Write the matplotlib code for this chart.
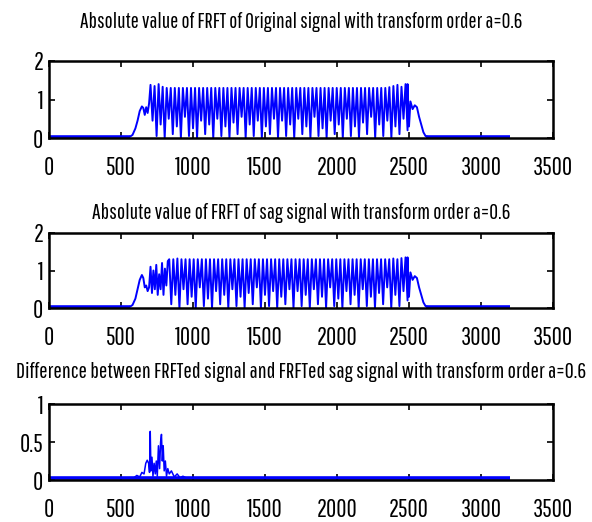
import numpy as np
import matplotlib
matplotlib.use("Agg")
import matplotlib.pyplot as plt

plt.rcParams['font.family'] = ['Pathway Gothic One', 'Saira Extra Condensed',
                               'Fira Sans Extra Condensed', 'DejaVu Sans']

# ---------------- data ----------------
titles = [
    "Absolute value of FRFT of Original signal with transform order a=0.6",
    "Absolute value of FRFT of sag signal with transform order a=0.6",
    "Difference between FRFTed signal and FRFTed sag signal with transform order a=0.6",
]
xticks = [0, 500, 1000, 1500, 2000, 2500, 3000, 3500]
yticks_top = [0, 1, 2]
yticks_diff = [0, 0.5, 1]
ytick_labels_diff = ["0", "0.5", "1"]

# noise floor (flat parts)
floor_x = [1, 560, 2620, 3200]
floor_y = [0.03, 0.03, 0.03, 0.03]

# original signal: rise / fall edges
orig_rise_x = [560, 580, 600, 615, 630, 645, 655, 665, 675, 685, 695, 705]
orig_rise_y = [0.03, 0.08, 0.25, 0.45, 0.7, 0.82, 0.78, 0.6, 0.8, 0.65, 0.9, 1.38]
orig_fall_x = [2490, 2500, 2510, 2525, 2540, 2555, 2570, 2585, 2600, 2615, 2630]
orig_fall_y = [1.4, 0.3, 0.95, 0.75, 0.85, 0.8, 0.55, 0.35, 0.15, 0.05, 0.03]
# oscillating body: peak / trough values, alternating along x
orig_body_start, orig_body_end = 705, 2490
orig_peaks = [1.38, 1.35, 1.4, 1.33, 1.3, 1.3, 1.3, 1.3, 1.3, 1.3, 1.3, 1.3, 1.3, 1.3, 1.3, 1.3,
              1.3, 1.3, 1.3, 1.3, 1.3, 1.3, 1.3, 1.3, 1.3, 1.3, 1.3, 1.3, 1.3, 1.3, 1.3, 1.3,
              1.3, 1.3, 1.3, 1.3, 1.3, 1.3, 1.3, 1.3, 1.3, 1.3, 1.3, 1.3, 1.3, 1.3, 1.3, 1.3,
              1.3, 1.3, 1.3, 1.3, 1.3, 1.3, 1.3, 1.3, 1.3, 1.3, 1.3, 1.32, 1.35, 1.38, 1.33, 1.4]
orig_troughs = [0.45, 0.05, 0.35, 0.0, 0.5, 0.1, 0.3, 0.0, 0.55, 0.05, 0.25, 0.0, 0.45, 0.1, 0.35, 0.0,
                0.5, 0.05, 0.3, 0.0, 0.4, 0.1, 0.55, 0.0, 0.35, 0.05, 0.45, 0.0, 0.3, 0.1, 0.5, 0.0,
                0.45, 0.05, 0.35, 0.0, 0.5, 0.1, 0.3, 0.0, 0.55, 0.05, 0.25, 0.0, 0.45, 0.1, 0.35, 0.0,
                0.5, 0.05, 0.3, 0.0, 0.4, 0.1, 0.55, 0.0, 0.35, 0.05, 0.45, 0.0, 0.3, 0.1, 0.5, 0.2]

# sag signal
sag_rise_x = [560, 580, 600, 615, 630, 645, 655, 665, 675, 685, 695, 705, 715, 725, 735, 745,
              755, 765, 775, 785, 795, 805, 815, 825, 835]
sag_rise_y = [0.03, 0.08, 0.25, 0.5, 0.75, 0.88, 0.8, 0.55, 0.6, 0.45, 0.55, 1.1, 0.4, 1.0, 0.5,
              1.15, 0.35, 0.9, 0.5, 1.2, 0.35, 1.05, 0.6, 1.25, 1.3]
sag_fall_x = orig_fall_x
sag_fall_y = [1.35, 0.3, 0.95, 0.75, 0.85, 0.8, 0.55, 0.35, 0.15, 0.05, 0.03]
sag_body_start, sag_body_end = 835, 2490
sag_peaks = [1.3, 1.3, 1.32, 1.3, 1.3, 1.3, 1.3, 1.3, 1.3, 1.3, 1.3, 1.3, 1.3, 1.3, 1.3, 1.3,
             1.3, 1.3, 1.3, 1.3, 1.3, 1.3, 1.3, 1.3, 1.3, 1.3, 1.3, 1.3, 1.3, 1.3, 1.3, 1.3,
             1.3, 1.3, 1.3, 1.3, 1.3, 1.3, 1.3, 1.3, 1.3, 1.3, 1.3, 1.3, 1.3, 1.3, 1.3, 1.3,
             1.3, 1.3, 1.3, 1.3, 1.3, 1.3, 1.3, 1.32, 1.3, 1.33, 1.35]
sag_troughs = [0.1, 0.35, 0.0, 0.5, 0.1, 0.3, 0.0, 0.55, 0.05, 0.25, 0.0, 0.45, 0.1, 0.35, 0.0,
               0.5, 0.05, 0.3, 0.0, 0.4, 0.1, 0.55, 0.0, 0.35, 0.05, 0.45, 0.0, 0.3, 0.1, 0.5, 0.0,
               0.45, 0.05, 0.35, 0.0, 0.5, 0.1, 0.3, 0.0, 0.55, 0.05, 0.25, 0.0, 0.45, 0.1, 0.35, 0.0,
               0.5, 0.05, 0.3, 0.0, 0.4, 0.1, 0.55, 0.0, 0.35, 0.05, 0.45, 0.2]

# difference signal (non-flat part)
diff_x = [560, 590, 610, 630, 645, 660, 672, 682, 692, 698, 703, 708, 715, 722, 730, 738, 745,
          752, 760, 768, 775, 781, 787, 793, 800, 808, 816, 825, 835, 850, 870, 890, 910, 930, 950]
diff_y = [0.03, 0.03, 0.06, 0.04, 0.1, 0.08, 0.22, 0.26, 0.22, 0.1, 0.64, 0.12, 0.3, 0.05, 0.22,
          0.08, 0.25, 0.05, 0.45, 0.15, 0.5, 0.6, 0.25, 0.45, 0.12, 0.25, 0.05, 0.15, 0.08, 0.12,
          0.04, 0.08, 0.03, 0.05, 0.03]

BLUE = (0, 0, 1)


def body_xy(start, end, peaks, troughs):
    vals = []
    for p, t in zip(peaks, troughs):
        vals.extend([p, t])
    xs = np.linspace(start, end, len(vals))
    return xs, np.array(vals)


def style_axes(ax, ylim, yticks, ylabels=None):
    ax.set_xlim(0, 3500)
    ax.set_ylim(*ylim)
    ax.set_xticks(xticks)
    ax.set_xticklabels([str(v) for v in xticks])
    ax.set_yticks(yticks)
    if ylabels is not None:
        ax.set_yticklabels(ylabels)
    else:
        ax.set_yticklabels([str(v) for v in yticks])
    ax.tick_params(direction='in', length=4, width=1.2, top=True, right=True,
                   labelsize=18, colors='black')
    ax.tick_params(axis='x', pad=13)
    ax.tick_params(axis='y', pad=4)
    for s in ax.spines.values():
        s.set_linewidth(1.8)
        s.set_color('black')


fig = plt.figure(figsize=(5.92, 5.22), dpi=100)
W, H = 592.0, 522.0
L, R = 49, 553
boxes = [(61, 138), (233, 308), (404, 480)]
axs = [fig.add_axes([L / W, 1 - b / H, (R - L) / W, (b - t) / H]) for t, b in boxes]

# top
ax = axs[0]
ax.plot(floor_x[:2], floor_y[:2], color=BLUE, lw=2.6, solid_capstyle='butt')
ax.plot(floor_x[2:], floor_y[2:], color=BLUE, lw=2.6, solid_capstyle='butt')
bx, by = body_xy(orig_body_start, orig_body_end, orig_peaks, orig_troughs)
ax.plot(np.concatenate([orig_rise_x, bx, orig_fall_x]),
        np.concatenate([orig_rise_y, by, orig_fall_y]), color=BLUE, lw=1.4)
style_axes(ax, (0, 2), yticks_top)

# middle
ax = axs[1]
ax.plot(floor_x[:2], floor_y[:2], color=BLUE, lw=2.6, solid_capstyle='butt')
ax.plot(floor_x[2:], floor_y[2:], color=BLUE, lw=2.6, solid_capstyle='butt')
bx, by = body_xy(sag_body_start, sag_body_end, sag_peaks, sag_troughs)
ax.plot(np.concatenate([sag_rise_x, bx, sag_fall_x]),
        np.concatenate([sag_rise_y, by, sag_fall_y]), color=BLUE, lw=1.4)
style_axes(ax, (0, 2), yticks_top)

# bottom
ax = axs[2]
ax.plot([floor_x[0], floor_x[-1]], [floor_y[0], floor_y[-1]], color=BLUE, lw=2.6,
        solid_capstyle='butt')
ax.plot(diff_x, diff_y, color=BLUE, lw=1.1)
style_axes(ax, (0, 1), yticks_diff, ytick_labels_diff)

# titles: centred over the axes, sized to the widths seen in the reference
title_y = [22, 213, 372]
title_w = [445, 420, 574]
renderer = fig.canvas.get_renderer()
for t, y, w in zip(titles, title_y, title_w):
    txt = fig.text(0.5 * (L + R) / W, 1 - y / H, t, ha='center', va='center', fontsize=14)
    cur = txt.get_window_extent(renderer).width
    txt.set_fontsize(14 * w / cur)

fig.savefig("out.png", dpi=100)
